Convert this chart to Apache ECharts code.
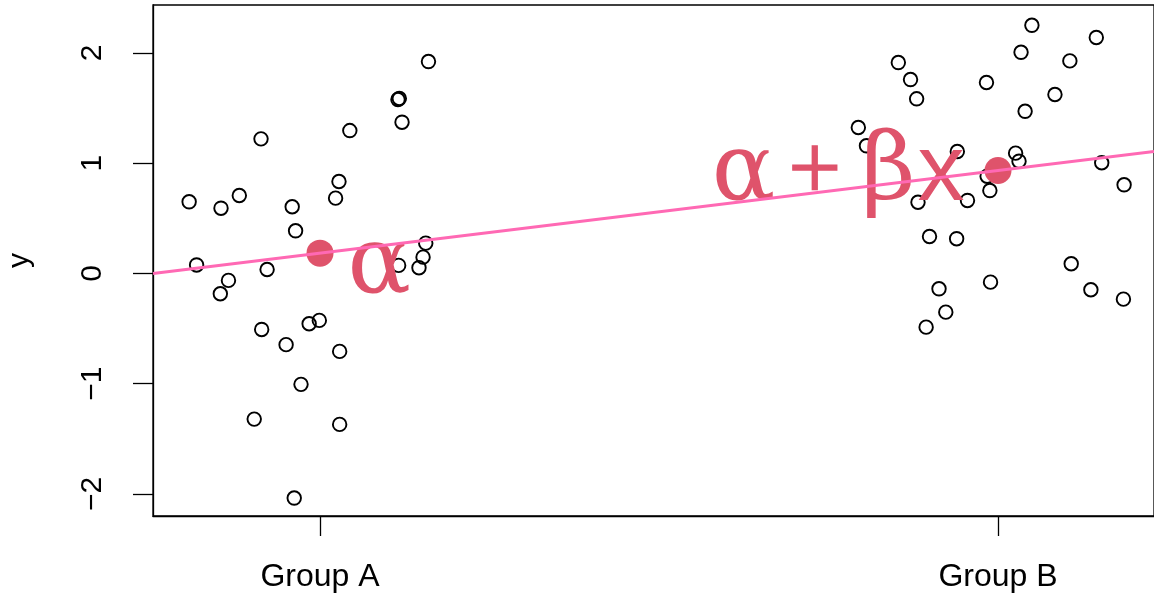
<!DOCTYPE html>
<html>
<head>
<meta charset="utf-8">
<script src="https://cdn.jsdelivr.net/npm/echarts@6/dist/echarts.min.js"></script>
<style>
  html, body { margin: 0; padding: 0; background: #fff; }
  #chart { width: 1154px; height: 595px; }
</style>
</head>
<body>
<div id="chart"></div>
<script>
// ---- data ----
const groupLabels = ['Group A', 'Group B'];
const groupPos = [0, 1];
const yTicks = [-2, -1, 0, 1, 2];

// Group A (x = 0 plus horizontal jitter)
const groupAx = [-0.193, -0.182, -0.146, -0.119, -0.147, -0.135, -0.097, -0.087, -0.086, -0.078,
                 -0.050, -0.041, -0.036, -0.028, -0.038, -0.016, -0.001, 0.023, 0.028, 0.029,
                 0.029, 0.044, 0.117, 0.115, 0.121, 0.116, 0.146, 0.152, 0.156, 0.160];
const groupAy = [0.650, 0.077, 0.592, 0.707, -0.184, -0.063, -1.321, 1.221, -0.508, 0.036,
                 -0.646, 0.605, 0.387, -1.006, -2.037, -0.456, -0.426, 0.683, 0.834, -0.707,
                 -1.369, 1.296, 1.587, 1.578, 1.372, 0.073, 0.052, 0.148, 0.275, 1.922];

// Group B (x = 1 plus horizontal jitter)
const groupBx = [1.050, 1.145, 1.034, 0.853, 1.106, 0.871, 0.983, 0.880, 1.084, 1.040,
                 0.794, 0.806, 0.940, 1.026, 1.031, 1.153, 0.984, 1.186, 0.882, 0.955,
                 0.988, 0.899, 0.939, 1.108, 0.989, 0.913, 1.137, 1.185, 0.923, 0.894];
const groupBy = [2.251, 2.140, 2.006, 1.913, 1.928, 1.759, 1.732, 1.584, 1.623, 1.471,
                 1.324, 1.158, 1.106, 1.091, 1.018, 1.004, 0.882, 0.804, 0.646, 0.662,
                 0.752, 0.335, 0.315, 0.088, -0.079, -0.139, -0.148, -0.233, -0.351, -0.487];

// fitted group values and regression line
const fitY = [0.184, 0.934];
const intercept = 0.184;
const slope = 0.75;

// axis extents
const xMin = -0.2463, xMax = 1.2301;
const yMin = -2.200, yMax = 2.435;

// ---- build chart ----
const pts = groupAx.map((x, i) => [x, groupAy[i]])
  .concat(groupBx.map((x, i) => [x, groupBy[i]]));
const fitPts = groupPos.map((x, i) => [x, fitY[i]]);
const linePts = [xMin, xMax].map(x => [x, intercept + slope * x]);

const RED = '#DF536B';
const SERIF = '"DejaVu Serif", "Liberation Serif", serif';
const SERIF2 = '"Liberation Serif", "DejaVu Serif", serif';
const SANS = '"Liberation Sans", Arial, Helvetica, sans-serif';
const BIG = 94;

const chart = echarts.init(document.getElementById('chart'), null, { renderer: 'canvas' });
chart.setOption({
  animation: false,
  backgroundColor: '#fff',
  grid: {
    left: 153, right: 0, top: 5, bottom: 79,
    outerBoundsMode: 'none', containLabel: false,
    show: true, borderColor: '#000', borderWidth: 1.3, backgroundColor: 'transparent'
  },
  xAxis: {
    type: 'value', min: xMin, max: xMax,
    axisLine: { show: true, onZero: false, lineStyle: { color: '#000', width: 1.3 } },
    axisTick: { show: true, inside: false, length: 20, customValues: groupPos,
                lineStyle: { color: '#000', width: 1.3 } },
    axisLabel: { show: true, customValues: groupPos, margin: 45, color: '#000',
                 fontFamily: SANS, fontSize: 32,
                 formatter: v => groupLabels[groupPos.indexOf(Math.round(v))] || '' },
    splitLine: { show: false }
  },
  yAxis: {
    type: 'value', min: yMin, max: yMax,
    name: 'y', nameLocation: 'middle', nameGap: 118, nameRotate: 90,
    nameTextStyle: { color: '#000', fontFamily: SANS, fontSize: 30 },
    axisLine: { show: true, onZero: false, lineStyle: { color: '#000', width: 1.3 } },
    axisTick: { show: true, inside: false, length: 20, customValues: yTicks,
                lineStyle: { color: '#000', width: 1.3 } },
    axisLabel: { show: true, customValues: yTicks, rotate: 90, margin: 45, color: '#000',
                 fontFamily: SANS, fontSize: 30,
                 formatter: v => (v < 0 ? '\u2212' + Math.abs(v) : String(v)) },
    splitLine: { show: false }
  },
  series: [
    {
      type: 'scatter', z: 2,
      data: pts,
      symbol: 'circle', symbolSize: 13.5,
      itemStyle: { color: 'rgba(0,0,0,0)', borderColor: '#000', borderWidth: 1.9, opacity: 1 },
      emphasis: { disabled: true }
    },
    {
      type: 'scatter', z: 3,
      data: fitPts.map((p, i) => ({
        value: p,
        label: i === 0
          ? { show: true, position: 'right', distance: 14, offset: [0, 14],
              formatter: '{g|α}' }
          : { show: true, position: 'left', distance: 20, offset: [0, 4],
              formatter: '{g|α}{p|+}{g|β}{s|x}' }
      })),
      symbol: 'circle', symbolSize: 27,
      itemStyle: { color: RED, opacity: 1 },
      label: {
        rich: {
          g: { fontFamily: SERIF, fontSize: BIG, color: RED },
          p: { fontFamily: SERIF2, fontSize: BIG, color: RED, padding: [0, 20, 0, 13],
               textBorderColor: RED, textBorderWidth: 1.5 },
          s: { fontFamily: SANS, fontSize: BIG, color: RED, padding: [0, 0, 0, 2] }
        }
      },
      emphasis: { disabled: true }
    },
    {
      type: 'line', z: 5,
      data: linePts,
      symbol: 'none',
      lineStyle: { color: '#FF69B4', width: 3 },
      clip: true,
      emphasis: { disabled: true }
    }
  ]
});
</script>
</body>
</html>
